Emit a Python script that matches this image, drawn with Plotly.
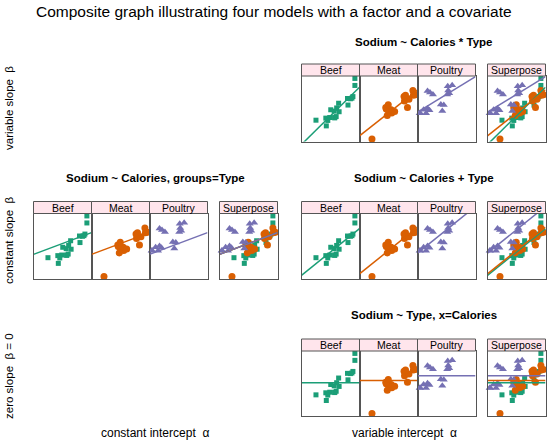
import numpy as np
import plotly.graph_objects as go

# ---- data (hot dogs: Calories, Sodium by Type) ----
beef_cal = [186, 181, 176, 149, 184, 190, 158, 139, 175, 148, 152, 111, 141, 153, 190, 157, 131, 149, 135, 132]
beef_sod = [495, 477, 425, 322, 482, 587, 370, 322, 479, 375, 330, 300, 386, 401, 645, 440, 317, 319, 298, 253]
meat_cal = [173, 191, 182, 190, 172, 147, 146, 139, 175, 136, 179, 153, 107, 195, 135, 140, 138]
meat_sod = [458, 506, 473, 545, 496, 360, 387, 386, 507, 393, 405, 372, 144, 511, 405, 428, 339]
poul_cal = [129, 132, 102, 106, 94, 102, 87, 99, 107, 113, 135, 142, 86, 143, 152, 146, 144]
poul_sod = [430, 375, 396, 383, 387, 542, 359, 357, 528, 513, 426, 513, 358, 581, 588, 522, 545]

types = ["Beef", "Meat", "Poultry"]
cal = {"Beef": beef_cal, "Meat": meat_cal, "Poultry": poul_cal}
sod = {"Beef": beef_sod, "Meat": meat_sod, "Poultry": poul_sod}
colors = {"Beef": "#1B9E77", "Meat": "#D95F02", "Poultry": "#7570B3"}
symbols = {"Beef": "square", "Meat": "circle", "Poultry": "triangle-up"}
sizes = {"Beef": 5, "Meat": 7, "Poultry": 7}

main_title = "Composite graph illustrating four models with a factor and a covariate"
row_labels = ["variable slope  \u03b2", "constant slope  \u03b2", "zero slope  \u03b2 = 0"]
col_labels = ["constant intercept  \u03b1", "variable intercept  \u03b1"]

# ---- fits ----
allx = np.concatenate([np.array(cal[t], float) for t in types])
ally = np.concatenate([np.array(sod[t], float) for t in types])
grp = np.concatenate([[i] * len(cal[t]) for i, t in enumerate(types)])

fit_sep = {t: np.polyfit(cal[t], sod[t], 1) for t in types}           # slope, intercept
b_all = np.polyfit(allx, ally, 1)
fit_common = {t: b_all for t in types}
X = np.column_stack([(grp == 0), (grp == 1), (grp == 2), allx]).astype(float)
coef = np.linalg.lstsq(X, ally, rcond=None)[0]
fit_par = {t: np.array([coef[3], coef[i]]) for i, t in enumerate(types)}
fit_mean = {t: np.array([0.0, np.mean(sod[t])]) for t in types}

xmin, xmax = allx.min(), allx.max()
ymin, ymax = ally.min(), ally.max()
xr = [xmin - 0.04 * (xmax - xmin), xmax + 0.04 * (xmax - xmin)]
yr = [ymin - 0.04 * (ymax - ymin), ymax + 0.04 * (ymax - ymin)]

W, H = 547, 440
left_cols = [(33.5, 91.5), (91.5, 149.5), (149.5, 207.5), (219.5, 277.5)]
right_cols = [(301.5, 359.5), (359.5, 417.5), (417.5, 475.5), (487.5, 545.5)]
rows = {1: (64, 76, 141.5), 2: (201.5, 213.5, 279), 3: (339, 351, 416)}

# groups: (row, cols, fit, title, title_x, title_y)
groups = [
    (1, right_cols, fit_sep, "Sodium ~ Calories * Type", 423.5, 42),
    (2, left_cols, fit_common, "Sodium ~ Calories, groups=Type", 155.5, 178),
    (2, right_cols, fit_par, "Sodium ~ Calories + Type", 423.5, 178),
    (3, right_cols, fit_mean, "Sodium ~ Type, x=Calories", 423.5, 315),
]

fig = go.Figure()
layout = {}
shapes = []
annotations = []
border = "#555555"
ax_i = 0
for row, cols, fit, title, tx, ty in groups:
    st, sb, pb = rows[row]
    annotations.append(dict(text="<b>" + title + "</b>", x=tx / W, y=1 - ty / H, xref="paper", yref="paper",
                            showarrow=False, font=dict(size=11.5, color="black"), xanchor="center", yanchor="middle"))
    for ci, (x0, x1) in enumerate(cols):
        ax_i += 1
        sfx = "" if ax_i == 1 else str(ax_i)
        layout["xaxis" + sfx] = dict(domain=[x0 / W, x1 / W], range=xr, showgrid=False, zeroline=False,
                                     showticklabels=False, ticks="", showline=True, mirror=True,
                                     linecolor=border, linewidth=1, anchor="y" + sfx, fixedrange=True)
        layout["yaxis" + sfx] = dict(domain=[1 - pb / H, 1 - sb / H], range=yr, showgrid=False, zeroline=False,
                                     showticklabels=False, ticks="", showline=True, mirror=True,
                                     linecolor=border, linewidth=1, anchor="x" + sfx, fixedrange=True)
        label = types[ci] if ci < 3 else "Superpose"
        shapes.append(dict(type="rect", xref="paper", yref="paper", x0=x0 / W, x1=x1 / W,
                           y0=1 - sb / H, y1=1 - st / H, fillcolor="#FFE5EC", line=dict(color=border, width=1)))
        annotations.append(dict(text=label, x=(x0 + x1) / 2 / W, y=1 - (st + sb) / 2 / H, xref="paper", yref="paper",
                                showarrow=False, font=dict(size=10.5, color="black"), xanchor="center", yanchor="middle"))
        show = types if ci == 3 else [types[ci]]
        for t in show:
            fig.add_trace(go.Scatter(x=cal[t], y=sod[t], mode="markers", xaxis="x" + sfx, yaxis="y" + sfx,
                                     marker=dict(symbol=symbols[t], size=sizes[t], color=colors[t], line=dict(width=0)),
                                     showlegend=False, hoverinfo="skip", cliponaxis=False))
        for t in show:
            b, a = fit[t]
            lx = np.array(xr)
            fig.add_trace(go.Scatter(x=lx, y=a + b * lx, mode="lines", xaxis="x" + sfx, yaxis="y" + sfx,
                                     line=dict(color=colors[t], width=1.5), showlegend=False, hoverinfo="skip"))

annotations.append(dict(text=main_title, x=0.5, y=1 - 11 / H, xref="paper", yref="paper", showarrow=False,
                        font=dict(size=15.5, color="black"), xanchor="center", yanchor="middle"))
for lab, yc in zip(row_labels, [108, 240, 376]):
    annotations.append(dict(text=lab, x=9 / W, y=1 - yc / H, xref="paper", yref="paper", showarrow=False,
                            textangle=-90, font=dict(size=11.5, color="black"), xanchor="center", yanchor="middle"))
for lab, xc in zip(col_labels, [155, 404]):
    annotations.append(dict(text=lab, x=xc / W, y=1 - 433 / H, xref="paper", yref="paper", showarrow=False,
                            font=dict(size=12, color="black"), xanchor="center", yanchor="middle"))

fig.update_layout(width=W, height=H, margin=dict(l=0, r=0, t=0, b=0), paper_bgcolor="white",
                  plot_bgcolor="white", font=dict(family="Liberation Sans, Arial, sans-serif"),
                  shapes=shapes, annotations=annotations, **layout)
fig.write_html("out.html", config={"displayModeBar": False},
               post_script="document.body.style.margin='0';document.body.style.padding='0';"
                           "document.body.style.overflow='hidden';")
